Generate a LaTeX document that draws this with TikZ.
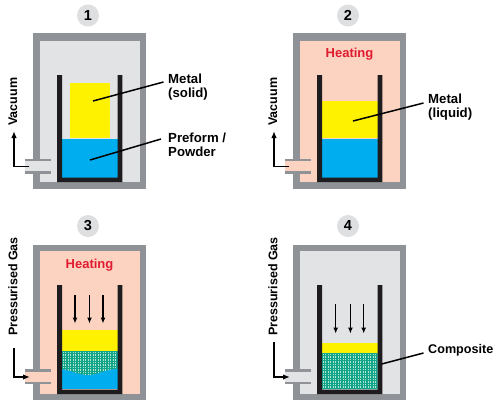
\documentclass[tikz,border=0pt]{standalone}
\usepackage{fontspec}
\setmainfont{Liberation Sans}
\usetikzlibrary{arrows.meta}
\definecolor{wallc}{RGB}{143,146,150}
\definecolor{coolc}{RGB}{226,227,229}
\definecolor{hotc}{RGB}{252,211,193}
\definecolor{crucc}{RGB}{30,28,30}
\definecolor{metalc}{RGB}{255,242,0}
\definecolor{bluec}{RGB}{0,174,239}
\definecolor{tealc}{RGB}{18,165,140}
\definecolor{dotc}{RGB}{175,230,205}
\definecolor{redc}{RGB}{224,27,48}
\definecolor{badgec}{RGB}{222,223,224}
\tikzset{
  x=1pt,y=-1pt,
  lab/.style={font=\bfseries\fontsize{13.2}{14}\selectfont,text=black,align=left,inner sep=0pt,anchor=west},
  labb/.style={font=\bfseries\fontsize{12.6}{14}\selectfont,text=black,align=left,inner sep=0pt,anchor=west},
  sidelab/.style={font=\bfseries\fontsize{12.5}{14}\selectfont,rotate=90,inner sep=0pt,anchor=west},
  heat/.style={font=\bfseries\fontsize{13}{15}\selectfont,text=redc,inner sep=0pt},
  badge/.style={circle,fill=badgec,minimum size=22pt,inner sep=0pt,font=\bfseries\fontsize{14.5}{15}\selectfont},
  leader/.style={draw=black,line width=1.5pt},
  flow/.style={draw=black,line width=1.3pt,-{Latex[length=6pt,width=5pt]}},
  sideflow/.style={draw=black,line width=1.5pt,-{Latex[length=7pt,width=5.5pt]}},
}
% #1 x offset, #2 top, #3 bottom, #4 inner top, #5 chamber colour, #6 pipe mid y, #7 inner bottom
\newcommand{\chamber}[7]{%
  \begin{scope}[xshift=#1pt]
    \fill[wallc] (33,#2) rectangle (146,#3);
    \fill[#5] (39.7,#4) rectangle (139.5,#7);
    \fill[#5] (33,#6-6) rectangle (51,#6+6);
    \fill[wallc] (24.5,#6-7.5) rectangle (51,#6-5);
    \fill[wallc] (24.5,#6+5) rectangle (51,#6+7.5);
    \fill[wallc] (33,#6+7.5) rectangle (39.7,#3);
    \fill[#5] (24.5,#6-5) rectangle (33,#6+5);
  \end{scope}}
\newcommand{\crucible}[3]{%
  \begin{scope}[xshift=#1pt]
    \fill[crucc] (57,#2) rectangle (62,#3) (117.5,#2) rectangle (122.3,#3) (57,#3-4.5) rectangle (122.3,#3);
  \end{scope}}
% #1 x offset, #2 top, #3 bottom
\newcommand{\composite}[3]{%
  \begin{scope}
    \clip (62+#1,#2) rectangle (117.5+#1,#3);
    \fill[tealc] (62+#1,#2) rectangle (117.5+#1,#3);
    \foreach \i in {0,...,22}{\foreach \j in {0,...,16}{
      \fill[dotc] (62.5+#1+2.5*\i,#2+.8+2.5*\j) rectangle +(1.25,1.25);}}
  \end{scope}}
\begin{document}
\begin{tikzpicture}
\useasboundingbox (0,0) rectangle (500,408);
\fill[white] (0,0) rectangle (500,408);

% ---- Panel 1
\node[badge] (b1) at (88,15.5) {1};
\chamber{0}{33}{189}{41}{coolc}{166}{182}
\fill[metalc] (70,83) rectangle (110,138);
\fill[bluec] (62,138.5) rectangle (117.5,178);
\crucible{0}{75}{182}
\node[lab] (m1) at (168,87) {Metal\\(solid)};
\coordinate (m1e) at (93,101);
\draw[leader] (m1e) -- (163.5,82);
\node[lab] (p1) at (168,144.5) {Preform /\\Powder};
\coordinate (p1e) at (90,160);
\draw[leader] (p1e) -- (161,139);
\node[sidelab] (v1) at (13,126) {Vacuum};
\coordinate (s1) at (29,166.5);
\coordinate (t1) at (14,131);
\draw[sideflow] (s1) -| (t1);

% ---- Panel 2
\node[badge] (b2) at (348,15.5) {2};
\chamber{260}{33}{189}{41}{hotc}{166}{182}
\fill[metalc] (322,101) rectangle (377.5,138);
\fill[bluec] (322,138.5) rectangle (377.5,178);
\crucible{260}{75}{182}
\node[heat] (h2) at (349.5,54) {Heating};
\node[lab] (m2) at (428,106.8) {Metal\\(liquid)};
\coordinate (m2e) at (353,121);
\draw[leader] (m2e) -- (423.5,103);
\node[sidelab] (v2) at (273,126) {Vacuum};
\coordinate (s2) at (289,166.5);
\coordinate (t2) at (274,131);
\draw[sideflow] (s2) -| (t2);

% ---- Panel 3
\node[badge] (b3) at (88,226) {3};
\chamber{0}{245}{399.5}{251.3}{hotc}{376.7}{394}
\fill[metalc] (62,330) rectangle (117.5,351);
\fill[bluec] (62,351) rectangle (117.5,389);
\begin{scope}
  \clip (62,351) -- (117.5,351) -- (117.5,369) .. controls (105,369) and (98,375) .. (88,375) .. controls (78,375) and (70,370) .. (62,369) -- cycle;
  \composite{0}{351}{379}
\end{scope}
\crucible{0}{285}{394}
\node[heat] (h3) at (89.5,265) {Heating};
\coordinate (a3a) at (75,295); \coordinate (a3b) at (75,323.5);
\coordinate (a3c) at (89.5,295); \coordinate (a3d) at (89.5,323.5);
\coordinate (a3e) at (103,295); \coordinate (a3f) at (103,323.5);
\draw[flow] (a3a) -- (a3b);
\draw[flow] (a3c) -- (a3d);
\draw[flow] (a3e) -- (a3f);
\node[sidelab] (g3) at (13,336) {Pressurised Gas};
\coordinate (s3) at (14,348);
\coordinate (t3) at (30,377);
\draw[sideflow] (s3) |- (t3);

% ---- Panel 4
\node[badge] (b4) at (348,226) {4};
\chamber{260}{245}{399.5}{251.3}{coolc}{376.7}{394}
\fill[metalc] (322,342.5) rectangle (377.5,353);
\composite{260}{353}{389}
\crucible{260}{285}{394}
\coordinate (a4a) at (335.7,303.5); \coordinate (a4b) at (335.7,333.5);
\coordinate (a4c) at (350.4,303.5); \coordinate (a4d) at (350.4,333.5);
\coordinate (a4e) at (363.7,303.5); \coordinate (a4f) at (363.7,333.5);
\draw[flow] (a4a) -- (a4b);
\draw[flow] (a4c) -- (a4d);
\draw[flow] (a4e) -- (a4f);
\node[labb] (c4) at (428,350.7) {Composite};
\coordinate (c4e) at (381.7,364);
\draw[leader] (c4e) -- (423.5,353);
\node[sidelab] (g4) at (273,336) {Pressurised Gas};
\coordinate (s4) at (274,342);
\coordinate (t4) at (290,377);
\draw[sideflow] (s4) |- (t4);
\end{tikzpicture}
\end{document}
